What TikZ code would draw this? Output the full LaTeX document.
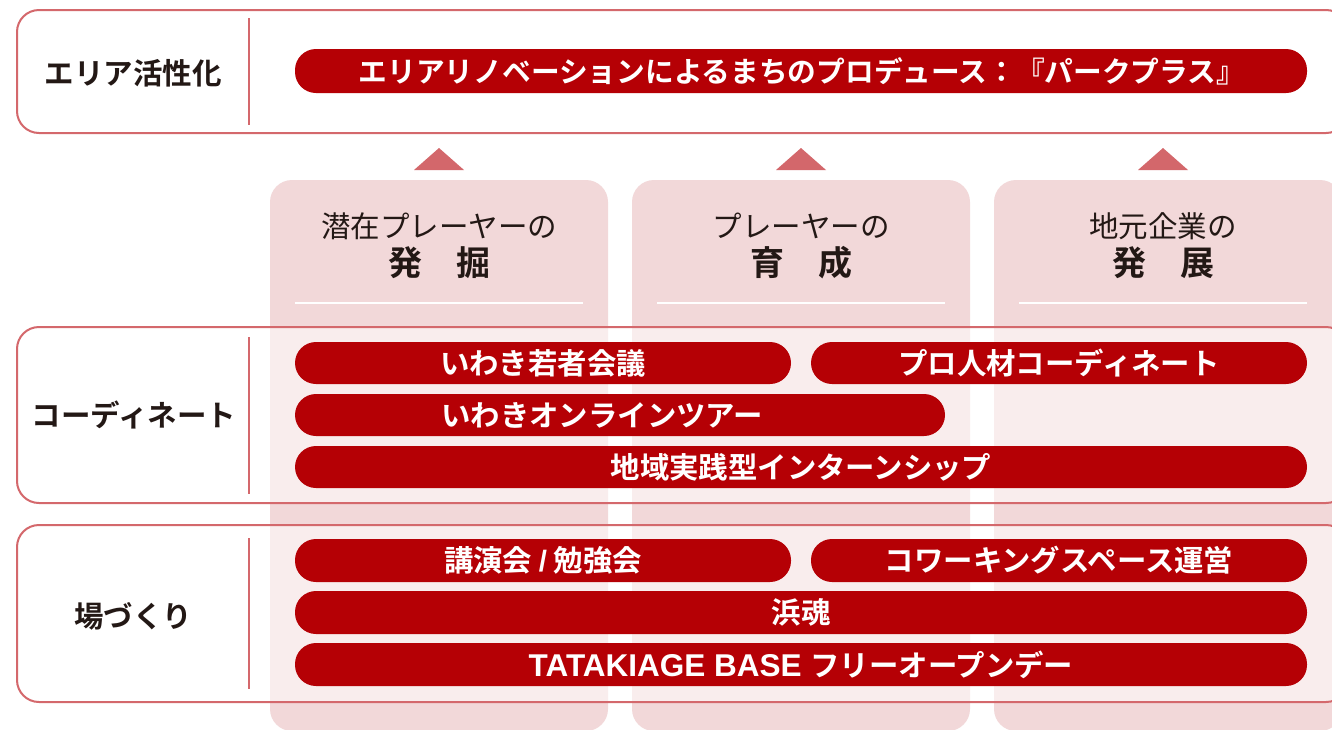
\documentclass[tikz,border=0pt]{standalone}
\usepackage{fontspec}
\setmainfont{Noto Sans CJK JP}[BoldFont={Noto Sans CJK JP Bold}]
\newfontfamily\jpbold{Noto Sans CJK JP Bold}
\newfontfamily\latbold{Liberation Sans}[BoldFont={Liberation Sans Bold}]
\definecolor{pillred}{HTML}{B50005}
\definecolor{bordercol}{HTML}{D4686C}
\definecolor{colpink}{HTML}{F2D8D9}
\definecolor{tricol}{HTML}{D3676B}
\definecolor{ink}{HTML}{231815}
\tikzset{
  pill/.style={fill=pillred, rounded corners=21pt, inner sep=0pt, minimum height=43pt,
    text=white, font=\jpbold\fontsize{29.4}{31}\selectfont},
  pilltext/.style={inner sep=0pt, text=white, font=\jpbold\fontsize{29.4}{31}\selectfont},
  rowbox/.style={draw=bordercol, line width=2pt, rounded corners=22pt, fill=white, fill opacity=0.55, draw opacity=1},
  divider/.style={draw=bordercol, line width=2pt},
  rowlabel/.style={inner sep=0pt, text=ink, font=\jpbold\fontsize{29.5}{31}\selectfont},
  colbox/.style={fill=colpink, rounded corners=22pt},
  headone/.style={inner sep=0pt, text=ink, font=\fontsize{29.5}{31}\selectfont},
  headtwo/.style={inner sep=0pt, text=ink, font=\jpbold\fontsize{34}{36}\selectfont},
  sepline/.style={draw=white, line width=2pt},
  uptri/.style={fill=tricol}
}
\begin{document}
\begin{tikzpicture}[x=1pt,y=-1pt]
\useasboundingbox (0,0) rectangle (1332,729);
\clip (0,0) rectangle (1332,729);
\fill[white] (0,0) rectangle (1332,729);
% columns
\fill[colbox] (270,180) rectangle (608,731);
\fill[colbox] (632,180) rectangle (970,731);
\fill[colbox] (994,180) rectangle (1342,731);
% triangles
\fill[uptri] (414,170) -- (439,148) -- (464,170) -- cycle;
\fill[uptri] (776,170) -- (801,148) -- (826,170) -- cycle;
\fill[uptri] (1138,170) -- (1163,148) -- (1188,170) -- cycle;
% column headings
\node[headone] (h1a) at (439,226) {潜在プレーヤーの};
\node[headtwo] (h1b) at (439,263) {発　掘};
\node[headone] (h2a) at (801,226) {プレーヤーの};
\node[headtwo] (h2b) at (801,263) {育　成};
\node[headone] (h3a) at (1163,226) {地元企業の};
\node[headtwo] (h3b) at (1163,263) {発　展};
\draw[sepline] (295,303) -- (583,303);
\draw[sepline] (657,303) -- (945,303);
\draw[sepline] (1019,303) -- (1307,303);
% row boxes
\path[rowbox, fill opacity=1] (17,10) rectangle (1348,133);
\path[rowbox] (17,327) rectangle (1348,503);
\path[rowbox] (17,525) rectangle (1348,702);
\draw[divider] (249,18) -- (249,125);
\draw[divider] (249,337) -- (249,494);
\draw[divider] (249,538) -- (249,689);
% row labels
\node[rowlabel] (l1) at (133,73) {エリア活性化};
\node[rowlabel] (l2) at (134,415) {コーディネート};
\node[rowlabel] (l3) at (133,616) {場づくり};
% pills
\node[pill, minimum width=1012pt, minimum height=44pt] (pA) at (801,71) {};
\node[pilltext, font=\jpbold\fontsize{28.7}{31}\selectfont] (tA) at (802,71) {エリアリノベーションによるまちのプロデュース：『パークプラス』};
\node[pill, minimum width=496pt, minimum height=42pt] (p1) at (543,363) {いわき若者会議};
\node[pill, minimum width=496pt, minimum height=42pt] (p2) at (1059,363) {プロ人材コーディネート};
\node[pill, minimum width=650pt, minimum height=42pt] (p3) at (620,415) {};
\node[pilltext, anchor=west] (t3) at (441,415) {いわきオンラインツアー};
\node[pill, minimum width=1012pt, minimum height=42pt] (p4) at (801,467) {地域実践型インターンシップ};
\node[pill, minimum width=496pt] (p5) at (543,560.5) {講演会 {\latbold\bfseries /} 勉強会};
\node[pill, minimum width=496pt] (p6) at (1059,560.5) {コワーキングスペース運営};
\node[pill, minimum width=1012pt] (p7) at (801,612.5) {浜魂};
\node[pill, minimum width=1012pt] (p8) at (801,664.5) {{\latbold\bfseries\fontsize{31.5}{33}\selectfont TATAKIAGE BASE }フリーオープンデー};
\end{tikzpicture}
\end{document}
